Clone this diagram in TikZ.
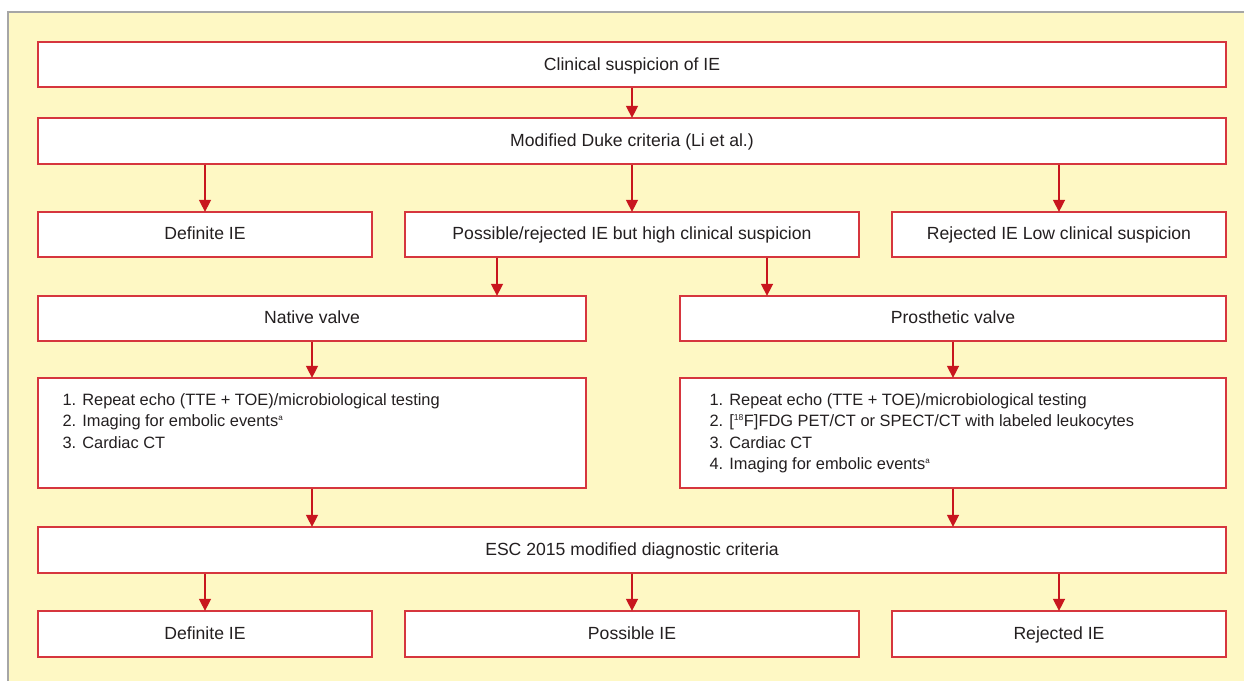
\documentclass[tikz,border=0pt]{standalone}
\usepackage{fontspec}
\setmainfont{Liberation Sans}
\usetikzlibrary{arrows.meta}
\definecolor{bgyellow}{HTML}{FEF8C4}
\definecolor{boxred}{HTML}{D6363E}
\definecolor{arrred}{HTML}{C8161E}
\definecolor{txt}{HTML}{231F20}
\definecolor{frame}{HTML}{A6A6A6}
\begin{document}
\begin{tikzpicture}[x=1pt,y=-1pt,
  box/.style={draw=boxred, line width=1.3pt, fill=white, inner sep=0pt, text=txt,
     text height=12.5pt, text depth=1.9pt,
     font=\fontsize{17.6}{21}\selectfont},
  listtext/.style={inner sep=0pt, align=left, text=txt, anchor=north west,
     font=\fontsize{16.4}{21.3}\selectfont},
  arr/.style={draw=arrred, line width=1.5pt, -{Triangle[length=12pt,width=12pt]}, shorten >=-0.5pt}
]
\useasboundingbox (0,0) rectangle (1244,681);
\fill[bgyellow] (8,12) rectangle (1244,681);
\draw[frame, line width=1.5pt] (8,681) -- (8,12) -- (1244,12);

% row 1-2
\node[box, minimum width=1188pt, minimum height=45pt, text depth=-3.5pt] (b1) at (632,64.5) {Clinical suspicion of IE};
\node[box, minimum width=1188pt, minimum height=46pt] (b2) at (632,141) {Modified Duke criteria (Li et al.)};
% row 3
\node[box, minimum width=334pt, minimum height=45pt] (d1) at (205,234.5) {Definite IE};
\node[box, minimum width=454pt, minimum height=45pt] (p1) at (632,234.5) {Possible/rejected IE but high clinical suspicion};
\node[box, minimum width=334pt, minimum height=45pt] (r1) at (1059,234.5) {Rejected IE Low clinical suspicion};
% row 4
\node[box, minimum width=548pt, minimum height=45pt] (nv) at (312,318.5) {Native valve};
\node[box, minimum width=546pt, minimum height=45pt] (pv) at (953,318.5) {Prosthetic valve};
% row 5
\node[box, minimum width=548pt, minimum height=110pt] (nl) at (312,433) {};
\node[box, minimum width=546pt, minimum height=110pt] (pl) at (953,433) {};
\node[listtext] (nlt) at ([xshift=25pt,yshift=-16pt]nl.north west) {1. Repeat echo (TTE + TOE)/microbiological testing\\2. Imaging for embolic events\textsuperscript{\scalebox{0.7}{a}}\\3. Cardiac CT};
\node[listtext] (plt) at ([xshift=30pt,yshift=-16pt]pl.north west) {1. Repeat echo (TTE + TOE)/microbiological testing\\2. [\textsuperscript{\scalebox{0.75}{18}}F]FDG PET/CT or SPECT/CT with labeled leukocytes\\3. Cardiac CT\\4. Imaging for embolic events\textsuperscript{\scalebox{0.7}{a}}};
% row 6
\node[box, minimum width=1188pt, minimum height=46pt] (esc) at (632,550) {ESC 2015 modified diagnostic criteria};
% row 7
\node[box, minimum width=334pt, minimum height=46pt] (d2) at (205,634) {Definite IE};
\node[box, minimum width=454pt, minimum height=46pt] (p2) at (632,634) {Possible IE};
\node[box, minimum width=334pt, minimum height=46pt] (r2) at (1059,634) {Rejected IE};

% arrows
\draw[arr] (b1.south) -- (b2.north);
\draw[arr] (b2.south -| d1.north) -- (d1.north);
\draw[arr] (b2.south -| p1.north) -- (p1.north);
\draw[arr] (b2.south -| r1.north) -- (r1.north);
\draw[arr] (p1.south -| 497,0) -- (nv.north -| 497,0);
\draw[arr] (p1.south -| 767,0) -- (pv.north -| 767,0);
\draw[arr] (nv.south) -- (nl.north);
\draw[arr] (pv.south) -- (pl.north);
\draw[arr] (nl.south) -- (esc.north -| nl.south);
\draw[arr] (pl.south) -- (esc.north -| pl.south);
\draw[arr] (esc.south -| d2.north) -- (d2.north);
\draw[arr] (esc.south -| p2.north) -- (p2.north);
\draw[arr] (esc.south -| r2.north) -- (r2.north);
\end{tikzpicture}
\end{document}
